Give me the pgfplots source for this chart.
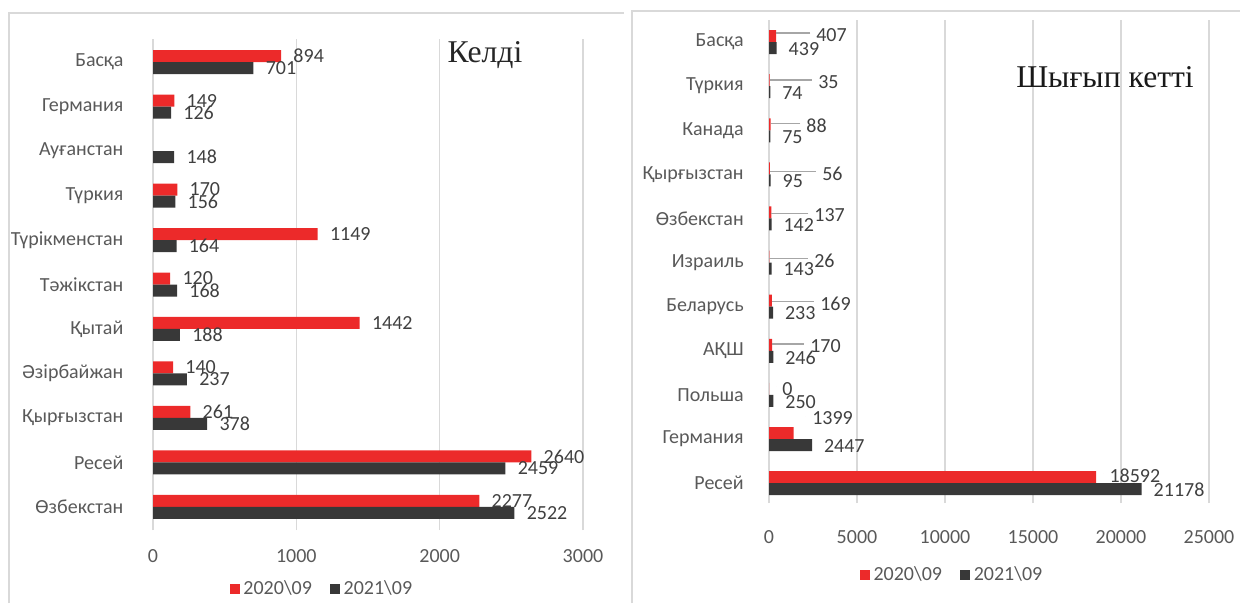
\documentclass[border=0pt]{standalone}
\usepackage{pgfplots}
\usepackage{pgfplotstable}
\pgfplotsset{compat=1.18}
\usepackage{fontspec}
\setmainfont{Carlito}
\newfontfamily\titlefont{Liberation Serif}

\definecolor{redbar}{HTML}{EC2A2A}
\definecolor{darkbar}{HTML}{383838}
\definecolor{txt}{HTML}{595959}
\definecolor{lbl}{HTML}{404040}
\definecolor{gridc}{HTML}{D9D9D9}
\definecolor{leadc}{HTML}{A6A6A6}

% Келді (arrived)
\pgfplotstableread{
k a b
0 2277 2522
1 2640 2459
2 261 378
3 140 237
4 1442 188
5 120 168
6 1149 164
7 170 156
8 nan 148
9 149 126
10 894 701
}\arrived

% Шығып кетті (left), red labels carry their own offsets (pt)
\pgfplotstableread{
k v dx dy lead
0 18592 7.8 0.9 0
1 1399 11 9 0
2 0 7.8 0 0
3 170 22.8 -0.6 19.2
4 169 28.8 -1.8 25.2
5 26 26.7 -2.4 23.1
6 137 25.6 -1.8 22
7 56 31.2 -3 27.6
8 88 21.3 -0.6 17.7
9 35 29.0 -1.2 25.4
10 407 23.9 0.6 20.3
}\leftred
\pgfplotstableread{
k v
0 21178
1 2447
2 250
3 246
4 233
5 143
6 142
7 95
8 75
9 74
10 439
}\leftdark

\pgfplotsset{
  panel/.style={
    xbar, scale only axis, clip=false,
    bar width=7.2pt, xmin=0,
    ytick={0,...,10},
    xmajorgrids,
    major grid style={gridc, line width=0.9pt},
    axis line style={draw=none},
    tick style={draw=none},
    scaled x ticks=false,
    tick label style={font=\fontsize{12}{14}\selectfont, text=txt},
    /pgf/number format/assume math mode=true,
    /pgf/number format/1000 sep={},
    point meta=explicit symbolic,
    nodes near coords,
    nodes near coords align={horizontal},
    every node near coord/.append style={font=\fontsize{12}{14}\selectfont, text=lbl, anchor=west, inner sep=0pt},
    legend columns=2,
    legend style={draw=none, fill=none, font=\fontsize{12}{14}\selectfont, text=txt,
      /tikz/every even column/.append style={column sep=9pt}},
    legend image code/.code={\fill[##1] (0pt,-3pt) rectangle (6pt,3pt);},
  },
}

\begin{document}
\begin{tikzpicture}
\useasboundingbox (0,0) rectangle (744pt,361.8pt);
\draw[gridc, line width=1.2pt] (5.4pt,0pt) -- (5.4pt,354pt) -- (374.4pt,354pt);
\draw[gridc, line width=1.2pt] (379.2pt,0pt) -- (379.2pt,355.2pt) -- (744pt,355.2pt);

\begin{axis}[panel,
  at={(91.8pt,43.8pt)}, anchor=south west,
  width=258pt, height=294.6pt,
  xmax=3000, xtick={0,1000,2000,3000},
  ymin=-0.52, ymax=10.52,
  yticklabels={Өзбекстан,Ресей,Қырғызстан,Әзірбайжан,Қытай,Тәжікстан,Түрікменстан,Түркия,Ауғанстан,Германия,Басқа},
  xticklabel style={yshift=-8pt},
  yticklabel style={xshift=-10pt},
  legend style={at={(axis description cs:0.395,-0.12)}, anchor=center},
]
\addplot[fill=redbar, draw=none, bar shift=3.6pt,
  every node near coord/.append style={xshift=7.2pt}]
  table[x=a, y=k, meta=a] {\arrived};
\addplot[fill=darkbar, draw=none, bar shift=-3.6pt,
  every node near coord/.append style={xshift=7.2pt}]
  table[x=b, y=k, meta=b] {\arrived};
\legend{2020\textbackslash 09, 2021\textbackslash 09}
\end{axis}

\begin{axis}[panel,
  at={(461.4pt,60pt)}, anchor=south west,
  width=264pt, height=289.8pt,
  xmax=25000, xtick={0,5000,10000,15000,20000,25000},
  ymin=-0.45, ymax=10.5,
  yticklabels={Ресей,Германия,Польша,АҚШ,Беларусь,Израиль,Өзбекстан,Қырғызстан,Канада,Түркия,Басқа},
  xticklabel style={yshift=-13pt},
  yticklabel style={xshift=-7.4pt},
  legend style={at={(axis description cs:0.418,-0.149)}, anchor=center},
]
\addplot[fill=redbar, draw=none, bar shift=3.6pt,
  visualization depends on={\thisrow{dx} \as \dx},
  visualization depends on={\thisrow{dy} \as \dy},
  visualization depends on={\thisrow{lead} \as \lead},
  every node near coord/.append style={xshift=\dx, yshift=\dy,
    append after command={(\tikzlastnode.west) ++(-3.6pt,1.2pt) edge[draw=leadc, line width=0.9pt] ++({-\lead*1pt},0pt)}}]
  table[x=v, y=k, meta=v] {\leftred};
\addplot[fill=darkbar, draw=none, bar shift=-3.6pt,
  every node near coord/.append style={xshift=7pt, yshift=-0.5pt}]
  table[x=v, y=k, meta=v] {\leftdark};
\legend{2020\textbackslash 09, 2021\textbackslash 09}
\end{axis}

\node[font=\titlefont\fontsize{19}{22}\selectfont, text=black!85] at (291pt,328.8pt) {Келді};
\node[font=\titlefont\fontsize{19}{22}\selectfont, text=black!90] at (663pt,315.6pt) {Шығып кетті};
\end{tikzpicture}
\end{document}
